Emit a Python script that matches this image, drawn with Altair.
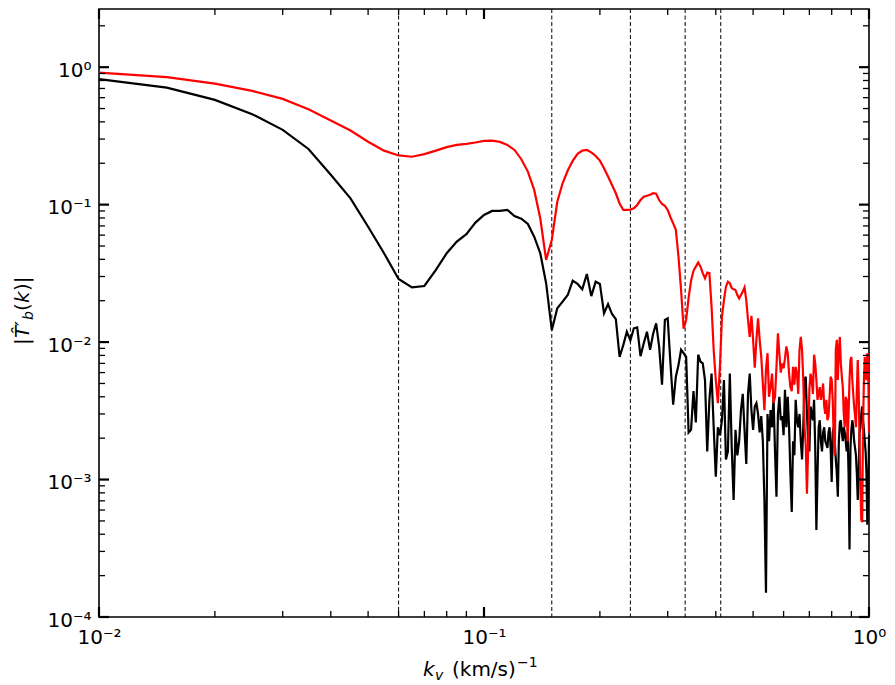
import altair as alt
import pandas as pd

# ---------------- data ----------------
# wavenumber grid: k = 0.005 * n, n = 2..200
K_INDEX = list(range(2, 201))
K = [round(0.005 * n, 3) for n in K_INDEX]

T_BLACK = [
    0.818, 0.71, 0.578, 0.455, 0.35, 0.254, 0.165, 0.111, 0.069, 0.0443,
    0.0288, 0.025, 0.0256, 0.0335, 0.0443, 0.0538, 0.061, 0.074, 0.0842, 0.090,
    0.090, 0.0915, 0.0827, 0.079, 0.0723, 0.0585, 0.0443, 0.0268, 0.0122, 0.0176,
    0.0197, 0.022, 0.028, 0.0265, 0.0242, 0.0313, 0.0216, 0.0275, 0.0265, 0.0162,
    0.0189, 0.016, 0.0147, 0.0078, 0.0095, 0.0119, 0.0103, 0.0126, 0.0128, 0.0079,
    0.0098, 0.0119, 0.0088, 0.0115, 0.0137, 0.0093, 0.0049, 0.0145, 0.0149, 0.0070,
    0.0035, 0.0056, 0.0068, 0.0088, 0.0083, 0.0078, 0.0022, 0.0023, 0.0044, 0.0026,
    0.0081, 0.0072, 0.0070, 0.0053, 0.0016, 0.0038, 0.0059, 0.0024, 0.00105, 0.0024,
    0.0021, 0.0027, 0.0053, 0.0014, 0.0016, 0.0059, 0.0017, 0.00071, 0.0023, 0.0015,
    0.0019, 0.0032, 0.0042, 0.0023, 0.0013, 0.0042, 0.0059, 0.0032, 0.0023, 0.0034,
    0.0036, 0.0030, 0.0022, 0.0029, 0.0019, 0.00071, 0.00015, 0.0030, 0.0019, 0.0032,
    0.0024, 0.0040, 0.0016, 0.00075, 0.0030, 0.0040, 0.0027, 0.0029, 0.0021, 0.0045,
    0.0024, 0.0040, 0.0024, 0.0011, 0.00058, 0.0019, 0.0015, 0.0038, 0.0027, 0.0024,
    0.0030, 0.0019, 0.0014, 0.0024, 0.0053, 0.0056, 0.0030, 0.0019, 0.0016, 0.0034,
    0.0030, 0.0027, 0.0038, 0.0017, 0.00043, 0.0011, 0.0024, 0.0027, 0.0019, 0.0016,
    0.0022, 0.0024, 0.0019, 0.0018, 0.0017, 0.0022, 0.0024, 0.0017, 0.00096, 0.0022,
    0.0024, 0.0019, 0.0014, 0.0011, 0.00075, 0.0019, 0.0026, 0.0027, 0.0022, 0.0019,
    0.0024, 0.0022, 0.0019, 0.0016, 0.0022, 0.0011, 0.00031, 0.0017, 0.0023, 0.0027,
    0.0024, 0.0019, 0.0017, 0.0015, 0.0011, 0.00071, 0.0011, 0.0022, 0.0024, 0.0030,
    0.0034, 0.0027, 0.0023, 0.0019, 0.0016, 0.0011, 0.00047, 0.00071, 0.0021,
]

T_RED = [
    0.914, 0.846, 0.76, 0.673, 0.588, 0.495, 0.409, 0.346, 0.287, 0.247,
    0.228, 0.223, 0.233, 0.247, 0.262, 0.272, 0.277, 0.283, 0.291, 0.292,
    0.286, 0.272, 0.25, 0.214, 0.174, 0.128, 0.0796, 0.0396, 0.0553, 0.105,
    0.143, 0.177, 0.208, 0.234, 0.247, 0.25, 0.240, 0.226, 0.209, 0.184,
    0.16, 0.139, 0.121, 0.102, 0.0915, 0.0915, 0.092, 0.094, 0.0995, 0.108,
    0.114, 0.116, 0.118, 0.121, 0.12, 0.108, 0.101, 0.098, 0.0915, 0.081,
    0.073, 0.0655, 0.0419, 0.0239, 0.0125, 0.0145, 0.021, 0.028, 0.033, 0.0354,
    0.0379, 0.0354, 0.0317, 0.0291, 0.032, 0.0317, 0.0181, 0.00875, 0.0053, 0.0036,
    0.0066, 0.0153, 0.0202, 0.0253, 0.0275, 0.0268, 0.0247, 0.0242, 0.0239, 0.022,
    0.0208, 0.022, 0.0233, 0.025, 0.0202, 0.0145, 0.0109, 0.0155, 0.0104, 0.0065,
    0.0104, 0.0149, 0.0104, 0.0078, 0.0050, 0.0032, 0.0063, 0.0083, 0.0040, 0.0047,
    0.0059, 0.0036, 0.0040, 0.0066, 0.0116, 0.0083, 0.0060, 0.0070, 0.00645, 0.0076,
    0.0093, 0.0083, 0.0059, 0.0047, 0.0044, 0.0066, 0.0049, 0.0066, 0.0059, 0.0042,
    0.0088, 0.0109, 0.0088, 0.0053, 0.0024, 0.0018, 0.00079, 0.0017, 0.0045, 0.0059,
    0.0053, 0.0042, 0.0081, 0.0070, 0.0053, 0.0038, 0.0042, 0.0047, 0.0038, 0.0042,
    0.0050, 0.0034, 0.0030, 0.0038, 0.0027, 0.0029, 0.0040, 0.0056, 0.0053, 0.0038,
    0.0019, 0.0015, 0.0088, 0.0104, 0.0053, 0.0088, 0.0109, 0.0070, 0.0056, 0.0047,
    0.0030, 0.0024, 0.0040, 0.0038, 0.0019, 0.0030, 0.0053, 0.0074, 0.0078, 0.0053,
    0.0042, 0.0034, 0.0029, 0.0024, 0.0045, 0.0074, 0.0045, 0.0019, 0.00084, 0.00051,
    0.00049, 0.0024, 0.0053, 0.0078, 0.0059, 0.0053, 0.0083, 0.0078, 0.0022,
]

DASHED_K = [0.06, 0.15, 0.24, 0.333, 0.412]

X_DOMAIN = [0.01, 1.0]
Y_DOMAIN = [1e-4, 2.65]
X_MAJOR = [0.01, 0.1, 1.0]
X_MINOR = [0.02, 0.03, 0.04, 0.05, 0.06, 0.07, 0.08, 0.09,
           0.2, 0.3, 0.4, 0.5, 0.6, 0.7, 0.8, 0.9]
Y_MAJOR = [1e-4, 1e-3, 1e-2, 1e-1, 1.0]
Y_MINOR = [2e-4, 3e-4, 4e-4, 5e-4, 6e-4, 7e-4, 8e-4, 9e-4,
           2e-3, 3e-3, 4e-3, 5e-3, 6e-3, 7e-3, 8e-3, 9e-3,
           2e-2, 3e-2, 4e-2, 5e-2, 6e-2, 7e-2, 8e-2, 9e-2,
           0.2, 0.3, 0.4, 0.5, 0.6, 0.7, 0.8, 0.9, 2.0]

# ---------------- layout ----------------
W, H = 770, 608
FONT = "DejaVu Sans"
MAJ_LEN, MIN_LEN = 10, 6

x_scale = alt.Scale(type="log", domain=X_DOMAIN, nice=False)
y_scale = alt.Scale(type="log", domain=Y_DOMAIN, nice=False)

x_axis = alt.Axis(
    values=X_MAJOR, title=None, grid=False, ticks=False, tickSize=0, domain=False,
    labelFont=FONT, labelFontSize=20, labelColor="black", labelPadding=26,
    labelBaseline="alphabetic", labelFlush=False, labelOverlap=False,
    labelExpr="datum.value > 0.5 ? '10⁰' : (datum.value > 0.05 ? '10⁻¹' : '10⁻²')",
)
y_axis = alt.Axis(
    values=Y_MAJOR, title=None, grid=False, ticks=False, tickSize=0, domain=False,
    labelFont=FONT, labelFontSize=20, labelColor="black", labelPadding=8,
    labelBaseline="middle", labelAlign="right", labelOffset=3,
    labelFlush=False, labelOverlap=False,
    labelExpr=("datum.value > 0.5 ? '10⁰' : (datum.value > 0.05 ? '10⁻¹' : "
               "(datum.value > 0.005 ? '10⁻²' : (datum.value > 0.0005 ? '10⁻³' : '10⁻⁴')))"),
)

x_enc = alt.X("k:Q", scale=x_scale, axis=x_axis)
y_enc = alt.Y("T:Q", scale=y_scale, axis=y_axis)

df_black = pd.DataFrame({"k": K, "T": T_BLACK})
df_red = pd.DataFrame({"k": K, "T": T_RED})

dashed = alt.Chart(pd.DataFrame({"k": DASHED_K})).mark_rule(
    color="black", strokeWidth=1, strokeDash=[4, 2.5]
).encode(x=x_enc, y=alt.value(0), y2=alt.value(H))

line_black = alt.Chart(df_black).mark_line(color="#000000", strokeWidth=2.2).encode(
    x=x_enc, y=y_enc
)
line_red = alt.Chart(df_red).mark_line(color="#ff0000", strokeWidth=2.2).encode(
    x=x_enc, y=y_enc
)


def xticks(values, length, width):
    d = pd.DataFrame({"k": values})
    bottom = alt.Chart(d).mark_rule(color="black", strokeWidth=width).encode(
        x=x_enc, y=alt.value(H), y2=alt.value(H - length))
    top = alt.Chart(d).mark_rule(color="black", strokeWidth=width).encode(
        x=x_enc, y=alt.value(0), y2=alt.value(length))
    return [bottom, top]


def yticks(values, length, width):
    d = pd.DataFrame({"T": values})
    left = alt.Chart(d).mark_rule(color="black", strokeWidth=width).encode(
        y=y_enc, x=alt.value(0), x2=alt.value(length))
    right = alt.Chart(d).mark_rule(color="black", strokeWidth=width).encode(
        y=y_enc, x=alt.value(W), x2=alt.value(W - length))
    return [left, right]


def piece(text, x, y, size=20, italic=False, angle=0):
    kw = dict(font=FONT, fontSize=size, color="black", align="left",
              baseline="alphabetic", x=x, y=y)
    if italic:
        kw["fontStyle"] = "italic"
    if angle:
        kw["angle"] = angle
    return alt.Chart(pd.DataFrame({"t": [text]})).mark_text(**kw).encode(text="t:N")


# x-axis title:  k_v (km/s)^-1
x_title = [
    piece("k", 324, 667, italic=True),
    piece("v", 336, 671, size=14, italic=True),
    piece("(km/s)", 353, 667),
    piece("−1", 418, 658, size=14),
]
# y-axis title: |T̂'_b(k)|  (rotated, reading upward)
YX = -70
y_title = [
    piece("|", YX, 336, angle=270),
    piece("T\u0302\u2032", YX, 329, italic=True, angle=270),
    piece("b", YX + 4, 311, size=14, italic=True, angle=270),
    piece("(", YX, 302, angle=270),
    piece("k", YX, 294, italic=True, angle=270),
    piece(")|", YX, 282, angle=270),
]

layers = [dashed, line_black, line_red]
layers += xticks(X_MAJOR, MAJ_LEN, 2.2) + xticks(X_MINOR, MIN_LEN, 1.3)
layers += yticks(Y_MAJOR, MAJ_LEN, 2.2) + yticks(Y_MINOR, MIN_LEN, 1.3)
layers += x_title + y_title

chart = alt.layer(*layers).properties(
    width=W,
    height=H,
    padding={"left": 91, "top": 1, "right": 18, "bottom": 66},
    autosize=alt.AutoSizeParams(type="none"),
).configure_view(stroke="black", strokeWidth=1.6)

chart.save("out.html", embed_options={"renderer": "svg", "actions": False})
